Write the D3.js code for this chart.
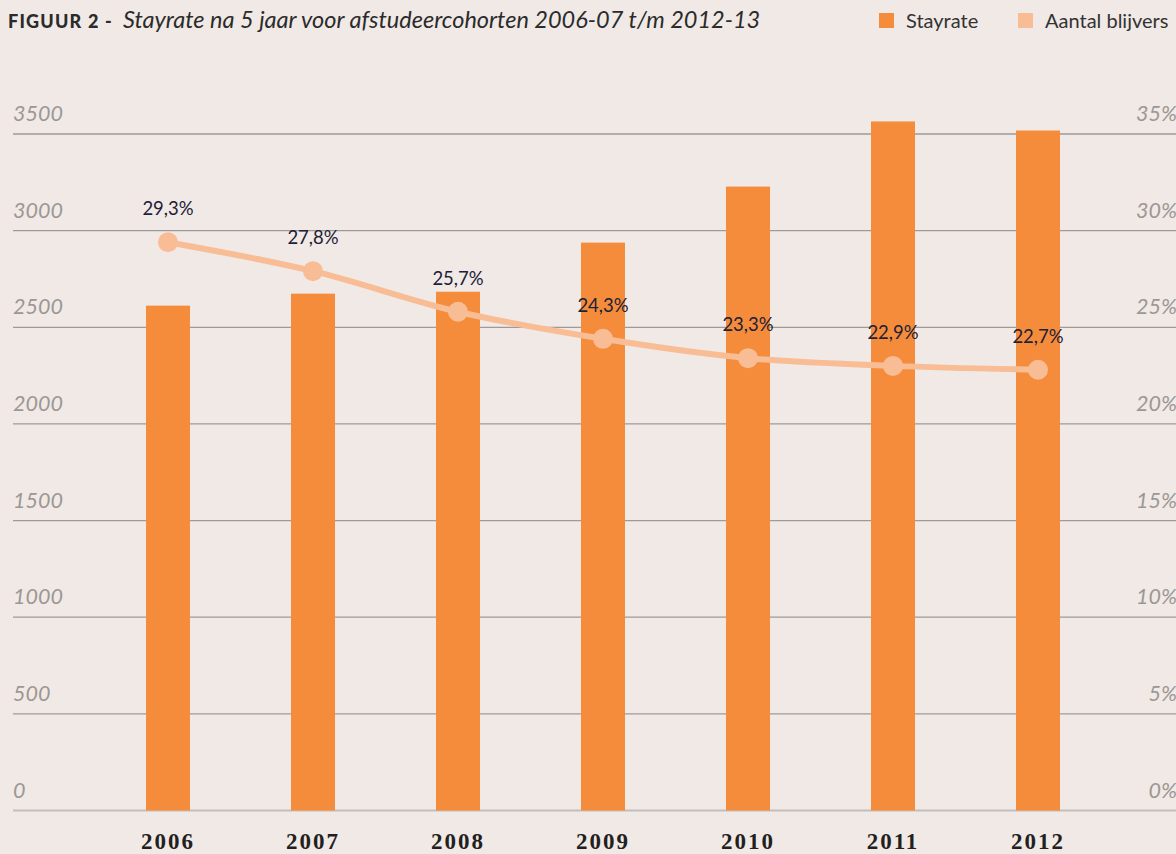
<!DOCTYPE html>
<html lang="nl">
<head>
    <meta charset="utf-8" />
    <title> stayrate </title>
    <script src="https://cdn.jsdelivr.net/npm/d3@7"></script>
    <style>
        body { margin: 0px; background: #f0e9e6; }
        svg { display: block; }
    </style>
</head>
<body>

<svg id="chart" width="1176" height="854"></svg>

<script>

    // data
    var years = ['2006', '2007', '2008', '2009', '2010', '2011', '2012'];
    var blijvers = [2612, 2674, 2684, 2938, 3228, 3565, 3518];
    var stayrate = [29.3, 27.8, 25.7, 24.3, 23.3, 22.9, 22.7];
    var leftTicks = [0, 500, 1000, 1500, 2000, 2500, 3000, 3500];
    var rightTicks = [0, 5, 10, 15, 20, 25, 30, 35];
    var legendLabels = ['Stayrate', 'Aantal blijvers'];

    var W = 1176, H = 854;
    var barColor = '#f58c3c';
    var lineColor = '#f9bd95';

    var svg = d3.select('#chart');

    svg.append('rect')
        .attr('width', W).attr('height', H)
        .attr('fill', '#f0e9e6');

    var x = d3.scalePoint().domain(years).range([168, 1038]);
    var barW = 44;
    var yL = d3.scaleLinear().domain([0, 3500]).range([810.5, 134]);
    var yR = d3.scaleLinear().domain([0, 35]).range([810.5, 134]);

    // grid lines
    var grid = svg.append('g');
    grid.selectAll('line')
        .data(leftTicks)
        .enter().append('line')
        .attr('x1', 13).attr('x2', W)
        .attr('y1', function(d) { return yL(d); })
        .attr('y2', function(d) { return yL(d); })
        .style('stroke', function(d) { return d === 0 ? '#c3bebb' : '#9e9a98'; })
        .style('stroke-width', function(d) { return d === 0 ? 2 : 1.3; });

    // left labels
    svg.append('g').selectAll('text')
        .data(leftTicks)
        .enter().append('text')
        .attr('x', 13)
        .attr('y', function(d) { return yL(d) - 13; })
        .text(function(d) { return d; })
        .style('font-family', 'Lato')
        .style('font-style', 'italic')
        .style('font-size', '21.5px')
        .style('fill', '#9d9794');

    // right labels
    svg.append('g').selectAll('text')
        .data(rightTicks)
        .enter().append('text')
        .attr('x', 1177)
        .attr('y', function(d) { return yR(d) - 13; })
        .attr('text-anchor', 'end')
        .text(function(d) { return d + '%'; })
        .style('font-family', 'Lato')
        .style('font-style', 'italic')
        .style('font-size', '21.5px')
        .style('fill', '#9d9794');

    // bars
    svg.append('g').selectAll('rect')
        .data(years)
        .enter().append('rect')
        .attr('x', function(d) { return x(d) - barW / 2; })
        .attr('y', function(d, i) { return yL(blijvers[i]); })
        .attr('width', barW)
        .attr('height', function(d, i) { return yL(0) - yL(blijvers[i]); })
        .attr('fill', barColor);

    // line
    var line = d3.line()
        .x(function(d, i) { return x(years[i]); })
        .y(function(d) { return yR(d) - 2; })
        .curve(d3.curveMonotoneX);

    svg.append('path')
        .datum(stayrate)
        .attr('d', line)
        .attr('fill', 'none')
        .style('stroke', lineColor)
        .style('stroke-width', 6);

    svg.append('g').selectAll('circle')
        .data(stayrate)
        .enter().append('circle')
        .attr('cx', function(d, i) { return x(years[i]); })
        .attr('cy', function(d) { return yR(d) - 2; })
        .attr('r', 10)
        .attr('fill', lineColor);

    // value labels
    svg.append('g').selectAll('text')
        .data(stayrate)
        .enter().append('text')
        .attr('x', function(d, i) { return x(years[i]); })
        .attr('y', function(d) { return yR(d) - 29; })
        .attr('text-anchor', 'middle')
        .text(function(d) { return d.toFixed(1).replace('.', ',') + '%'; })
        .style('font-family', 'Lato')
        .style('font-size', '18.5px')
        .style('fill', '#1d2136');

    // year labels
    svg.append('g').selectAll('text')
        .data(years)
        .enter().append('text')
        .attr('x', function(d) { return x(d); })
        .attr('y', 849)
        .attr('text-anchor', 'middle')
        .text(function(d) { return d; })
        .style('font-family', 'Liberation Serif')
        .style('font-weight', 'bold')
        .style('font-size', '23px')
        .style('letter-spacing', '2px')
        .style('fill', '#231f20');

    // title
    var title = svg.append('text')
        .attr('x', 8).attr('y', 28);
    title.append('tspan')
        .text('FIGUUR 2 -')
        .style('font-family', 'Lato')
        .style('font-weight', 900)
        .style('font-size', '18px')
        .style('letter-spacing', '1.2px')
        .style('fill', '#2b2b2b');
    title.append('tspan')
        .attr('x', 123)
        .text('Stayrate na 5 jaar voor afstudeercohorten 2006-07 t/m 2012-13')
        .style('font-family', 'Lato')
        .style('font-style', 'italic')
        .style('font-weight', 400)
        .style('font-size', '23.5px')
        .style('fill', '#2b2b2b');

    // legend
    var legendX = [879, 1018];
    var legendColors = [barColor, lineColor];
    var lg = svg.append('g').selectAll('g')
        .data(legendLabels)
        .enter().append('g');
    lg.append('rect')
        .attr('x', function(d, i) { return legendX[i]; })
        .attr('y', 13)
        .attr('width', 15).attr('height', 15)
        .attr('fill', function(d, i) { return legendColors[i]; });
    lg.append('text')
        .attr('x', function(d, i) { return legendX[i] + 27; })
        .attr('y', 28)
        .text(function(d) { return d; })
        .style('font-family', 'Lato')
        .style('font-size', '20px')
        .style('fill', '#333');

</script>

</body>
</html>
